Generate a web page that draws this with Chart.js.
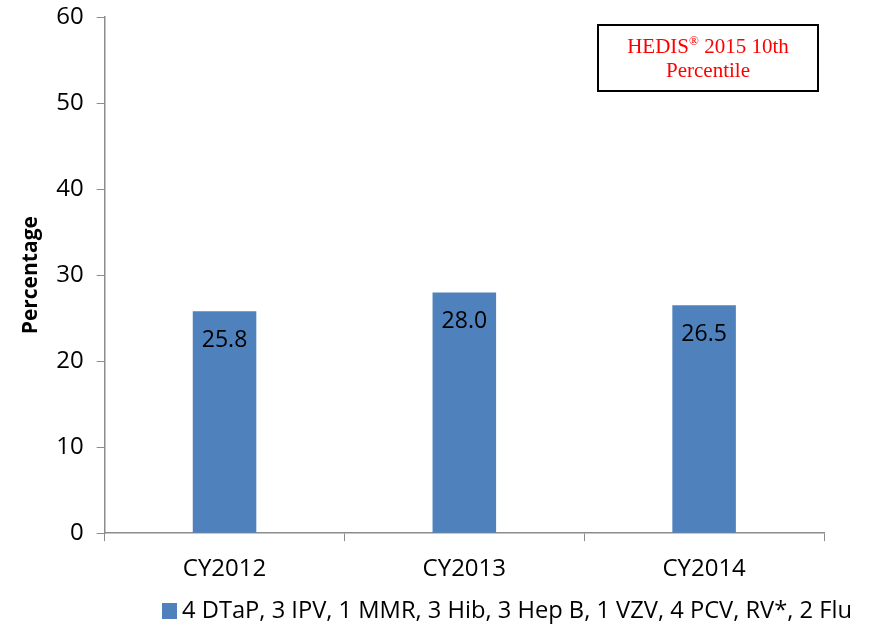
<!DOCTYPE html>
<html>
<head>
<meta charset="utf-8">
<script src="https://cdn.jsdelivr.net/npm/chart.js@4"></script>
<style>
  html, body { margin: 0; padding: 0; background: #fff; }
  #wrap { position: relative; width: 872px; height: 628px; }
  #hedis-box {
    position: absolute; left: 597px; top: 24px; width: 222px; height: 68px;
    border: 2px solid #000; box-sizing: border-box;
    font-family: 'Liberation Serif', serif; font-size: 21px; color: #ff0000;
    text-align: center; line-height: 24px; padding-top: 8px;
  }
  #hedis-box sup { font-size: 13px; vertical-align: 8px; line-height: 0; }
</style>
</head>
<body>
<div id="wrap">
  <canvas id="chart" width="872" height="628"></canvas>
  <div id="hedis-box">HEDIS<sup>®</sup> 2015 10th<br>Percentile</div>
</div>
<script>
/* ===== DATA ===== */
const categories  = ['CY2012', 'CY2013', 'CY2014'];
const rates       = [25.8, 28.0, 26.5];
const seriesLabel = '4 DTaP, 3 IPV, 1 MMR, 3 Hib, 3 Hep B, 1 VZV, 4 PCV, RV*, 2 Flu';

const FONT   = "'Open Sans', sans-serif";
const BAR    = '#4f81bd';
const AXIS   = '#8c8c8c';

// Value labels drawn just inside the top of each bar
const barLabels = {
  id: 'barLabels',
  afterDatasetsDraw(chart) {
    const ctx = chart.ctx;
    const meta = chart.getDatasetMeta(0);
    ctx.save();
    ctx.font = '23px ' + FONT;
    ctx.fillStyle = '#000';
    ctx.textAlign = 'center';
    ctx.textBaseline = 'middle';
    meta.data.forEach((bar, i) => {
      ctx.fillText(rates[i].toFixed(1), bar.x, bar.y + 29);
    });
    ctx.restore();
  }
};

// Bottom legend, placed like the original
const bottomLegend = {
  id: 'bottomLegend',
  afterDraw(chart) {
    const ctx = chart.ctx;
    const ds  = chart.data.datasets[0];
    ctx.save();
    ctx.font = '23.7px ' + FONT;
    ctx.textBaseline = 'middle';
    const y = 611;
    const x0 = 162;
    ctx.fillStyle = ds.backgroundColor;
    ctx.fillRect(x0, y - 8, 15, 16);
    ctx.fillStyle = '#000';
    ctx.fillText(ds.label, x0 + 20, y);
    ctx.restore();
  }
};

new Chart(document.getElementById('chart'), {
  type: 'bar',
  data: {
    labels: categories,
    datasets: [{
      label: seriesLabel,
      data: rates,
      backgroundColor: BAR,
      categoryPercentage: 1.0,
      barPercentage: 0.265,
    }],
  },
  options: {
    responsive: false,
    animation: false,
    events: [],
    layout: { padding: { top: 0, right: 48, bottom: 30, left: 0 } },
    plugins: {
      legend: { display: false },
      tooltip: { enabled: false },
    },
    scales: {
      x: {
        offset: true,
        grid: {
          offset: true,
          drawOnChartArea: false,
          drawTicks: true,
          tickLength: 8,
          color: AXIS,
        },
        border: { color: AXIS, width: 1.5 },
        ticks: { color: '#000', font: { family: FONT, size: 24 }, padding: 14 },
      },
      y: {
        min: 0,
        max: 60,
        ticks: { stepSize: 10, color: '#000', font: { family: FONT, size: 24, lineHeight: 0.35 }, padding: 13 },
        grid: {
          drawOnChartArea: false,
          drawTicks: true,
          tickLength: 8,
          color: AXIS,
        },
        border: { color: AXIS, width: 1.5 },
        title: {
          display: true,
          text: 'Percentage',
          color: '#000',
          font: { family: FONT, size: 21, weight: 'bold' },
          padding: { top: 18, bottom: 0 },
        },
      },
    },
  },
  plugins: [barLabels, bottomLegend],
});
</script>
</body>
</html>
